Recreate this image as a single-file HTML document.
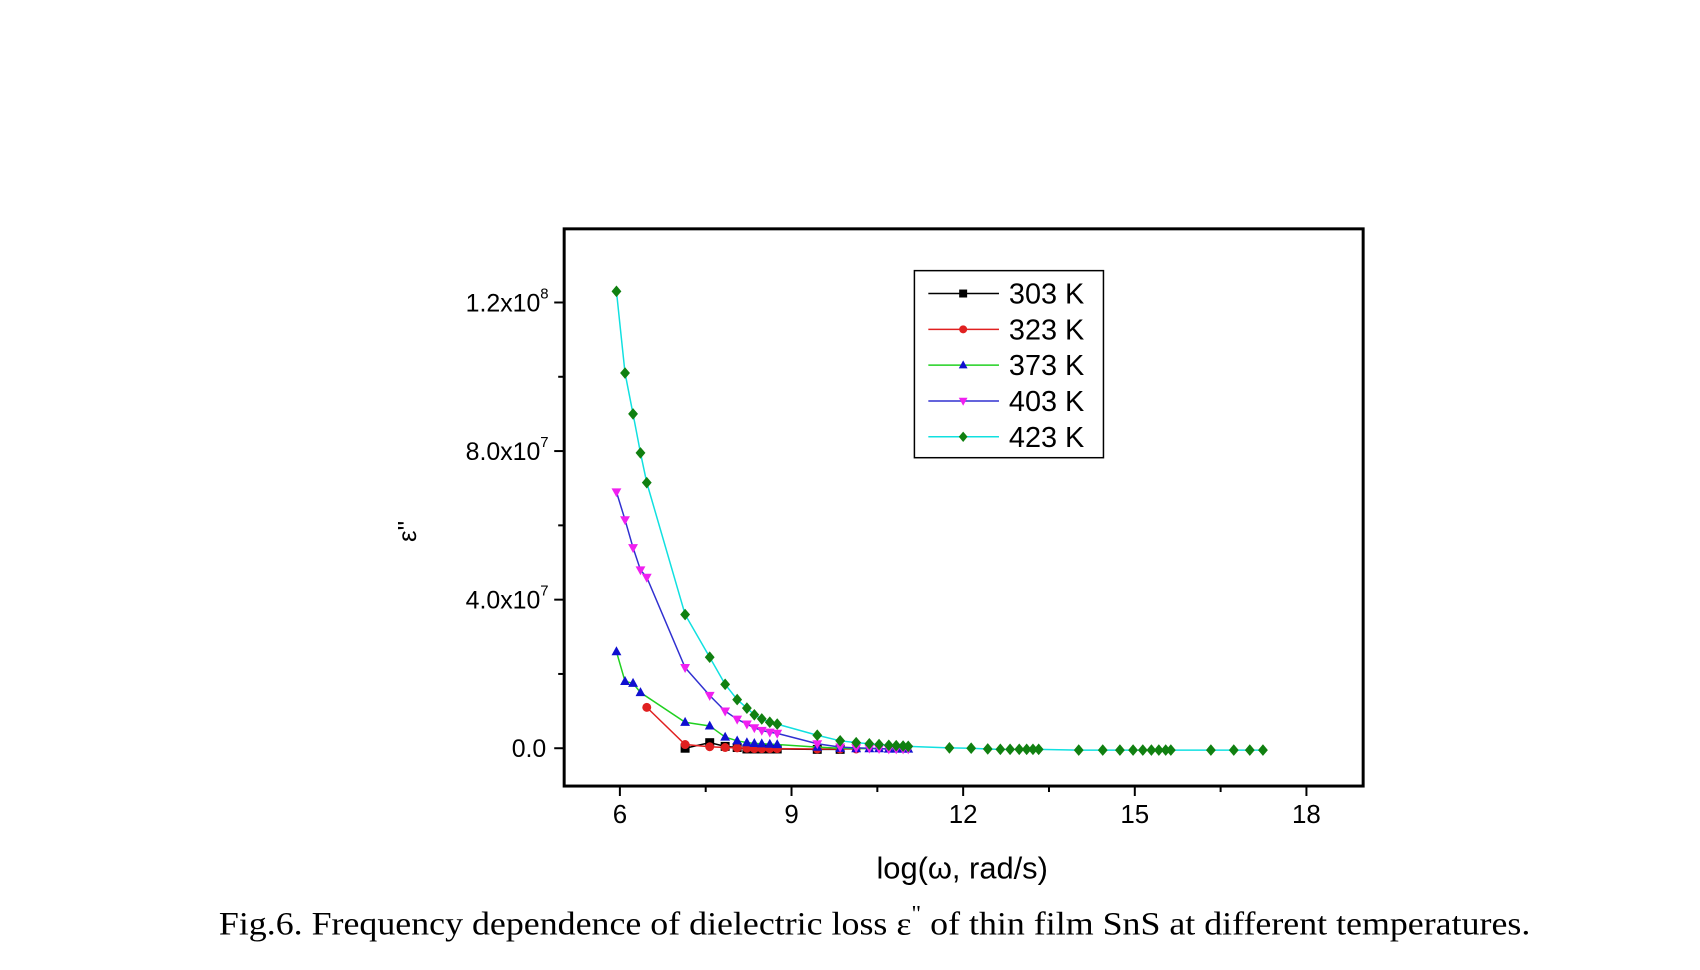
<!DOCTYPE html>
<html><head><meta charset="utf-8"><style>
html,body{margin:0;padding:0;background:#fff}
svg{display:block}
</style></head><body>
<svg id="chart" width="1700" height="970" xmlns="http://www.w3.org/2000/svg" font-family="'Liberation Sans', Arial, sans-serif">
<rect width="1700" height="970" fill="#fff"/>
<g transform="scale(0.995)">
<g id="axes"></g>
<g id="series"></g>
<g id="legend"></g>
<text x="0" y="0" transform="translate(418,534) rotate(-90)" font-size="26" text-anchor="middle">ε''</text>
<text x="967" y="883" font-size="31" text-anchor="middle">log(ω, rad/s)</text>
<text x="220" y="939" font-size="33" font-family="'Liberation Serif', serif" textLength="1318" lengthAdjust="spacingAndGlyphs">Fig.6. Frequency dependence of dielectric loss ε<tspan dy="-14" font-size="22">"</tspan><tspan dy="14"> of thin film SnS at different temperatures.</tspan></text>
</g>
</svg>
<script>
const xs = [5.94,6.09,6.23,6.36,6.47,7.14,7.57,7.84,8.05,8.22,8.35,8.48,8.62,8.75,9.45,9.85,10.13,10.36,10.53,10.70,10.83,10.95,11.04,11.76,12.14,12.43,12.65,12.82,12.98,13.11,13.22,13.32,14.02,14.44,14.74,14.97,15.14,15.29,15.42,15.54,15.63,16.33,16.73,17.01,17.24];
const y303 = [null,null,null,null,null,0.0,0.15e7,0.05e7,0.02e7,-0.02e7,-0.02e7,-0.02e7,-0.02e7,-0.02e7,-0.03e7,-0.03e7];
const y323 = [null,null,null,null,1.1e7,0.1e7,0.04e7,0.02e7,0.01e7,0.0,-0.01e7,-0.01e7,-0.01e7,-0.01e7,-0.02e7,-0.02e7,-0.02e7];
const y373 = [2.6e7,1.8e7,1.75e7,1.5e7,null,0.7e7,0.6e7,0.3e7,0.2e7,0.15e7,0.13e7,0.12e7,0.11e7,0.1e7,0.03e7,0.0,-0.01e7,-0.01e7,-0.01e7,-0.02e7,-0.02e7,-0.02e7,-0.02e7];
const y403 = [6.9e7,6.15e7,5.4e7,4.8e7,4.6e7,2.17e7,1.42e7,1.0e7,0.78e7,0.65e7,0.55e7,0.48e7,0.43e7,0.4e7,0.12e7,0.03e7,0.01e7,0.0,-0.01e7,-0.02e7,-0.02e7,-0.02e7,-0.02e7];
const y423 = [12.3e7,10.1e7,9.0e7,7.95e7,7.15e7,3.6e7,2.45e7,1.72e7,1.31e7,1.08e7,0.9e7,0.79e7,0.7e7,0.65e7,0.35e7,0.2e7,0.15e7,0.12e7,0.1e7,0.08e7,0.07e7,0.06e7,0.05e7,0.01e7,0.0,-0.02e7,-0.03e7,-0.03e7,-0.03e7,-0.03e7,-0.03e7,-0.03e7,-0.05e7,-0.05e7,-0.05e7,-0.05e7,-0.05e7,-0.05e7,-0.05e7,-0.05e7,-0.05e7,-0.05e7,-0.05e7,-0.05e7,-0.05e7];
const seriesNames = ['303 K','323 K','373 K','403 K','423 K'];
const xTicks = [6,9,12,15,18];
const yTicks = [0,4e7,8e7,1.2e8];
const yTickLabels = ['0.0','4.0x10','8.0x10','1.2x10'];
const yTickExp = ['','7','7','8'];

const NS='http://www.w3.org/2000/svg';
const L=567,R=1370,T=230,B=790;
const sx=v=>623+(v-6)*57.5;
const sy=v=>752-v/1.2e8*448;
function mk(tag,attrs,parent){const e=document.createElementNS(NS,tag);for(const k in attrs)e.setAttribute(k,attrs[k]);parent.appendChild(e);return e;}
const axes=document.getElementById('axes');
const frame=mk('rect',{x:L,y:T,width:R-L,height:B-T,fill:'none',stroke:'#000','stroke-width':3},axes);


for(let v=4.5;v<=18.01;v+=1.5){
  if(sx(v)<L||sx(v)>R)continue;
  const major=xTicks.includes(Math.round(v*10)/10);
  const t=mk('line',{x1:sx(v),x2:sx(v),y1:B,y2:B+(major?10:6),stroke:'#000','stroke-width':2},axes);
  
  
}
xTicks.forEach(v=>{
  const t=mk('text',{x:sx(v),y:B+37,'font-size':26,'text-anchor':'middle'},axes);t.textContent=v;
  
  
});
for(let v=-2e7;v<=1.4e8;v+=2e7){
  if(sy(v)<T||sy(v)>B)continue;
  const major=yTicks.some(y=>Math.abs(y-v)<1);
  const t=mk('line',{x1:L,x2:L-(major?10:6),y1:sy(v),y2:sy(v),stroke:'#000','stroke-width':2},axes);
  
  
}
yTicks.forEach((v,i)=>{
  const t=mk('text',{x:L-18-(yTickExp[i]?6:0),y:sy(v)+9,'font-size':25,'text-anchor':'end'},axes);t.textContent=yTickLabels[i];
  
  
  if(yTickExp[i]){const s=mk('text',{x:L-24,y:sy(v)-4,'font-size':15,'text-anchor':'start'},axes);s.textContent=yTickExp[i];
  
  }
});
const styles=[
 {line:'#000',mk:'#000',shape:'square'},
 {line:'#e02020',mk:'#e02020',shape:'circle'},
 {line:'#20d020',mk:'#1010d0',shape:'tri'},
 {line:'#3030d0',mk:'#f020f0',shape:'dtri'},
 {line:'#10e0e0',mk:'#108010',shape:'diamond'}];
function marker(g,shape,x,y,c,s){
  let e;
  if(shape==='square')e=mk('rect',{x:x-s,y:y-s,width:2*s,height:2*s,fill:c},g);
  else if(shape==='circle')e=mk('circle',{cx:x,cy:y,r:s,fill:c},g);
  else if(shape==='tri')e=mk('polygon',{points:`${x},${y-s*1.2} ${x-s*1.1},${y+s*0.8} ${x+s*1.1},${y+s*0.8}`,fill:c},g);
  else if(shape==='dtri')e=mk('polygon',{points:`${x},${y+s*1.2} ${x-s*1.1},${y-s*0.8} ${x+s*1.1},${y-s*0.8}`,fill:c},g);
  else e=mk('polygon',{points:`${x},${y-s*1.3} ${x+s*1.1},${y} ${x},${y+s*1.3} ${x-s*1.1},${y}`,fill:c},g);
  
  
}
const sg=document.getElementById('series');
[y303,y323,y373,y403,y423].forEach((ys,si)=>{
  const g=mk('g',{},sg);
  
  
  const pts=[];ys.forEach((v,i)=>{if(v!==null)pts.push([sx(xs[i]),sy(v)]);});
  const pl=mk('polyline',{points:pts.map(p=>p.join(',')).join(' '),fill:'none',stroke:styles[si].line,'stroke-width':1.5},g);
  
  
  pts.forEach(p=>marker(g,styles[si].shape,p[0],p[1],styles[si].mk,4.5));
});
const lg=document.getElementById('legend');
const box=mk('rect',{x:919,y:272,width:190,height:188,fill:'#fff',stroke:'#000','stroke-width':1.5},lg);


seriesNames.forEach((n,i)=>{
  const y=295+i*36;
  const g=mk('g',{},lg);
  
  
  mk('line',{x1:933,x2:1004,y1:y,y2:y,stroke:styles[i].line,'stroke-width':1.5},g);
  marker(g,styles[i].shape,968,y,styles[i].mk,4);
  const t=mk('text',{x:1014,y:y+10,'font-size':29},g);t.textContent=n;
  
  
});
</script>
</body></html>
